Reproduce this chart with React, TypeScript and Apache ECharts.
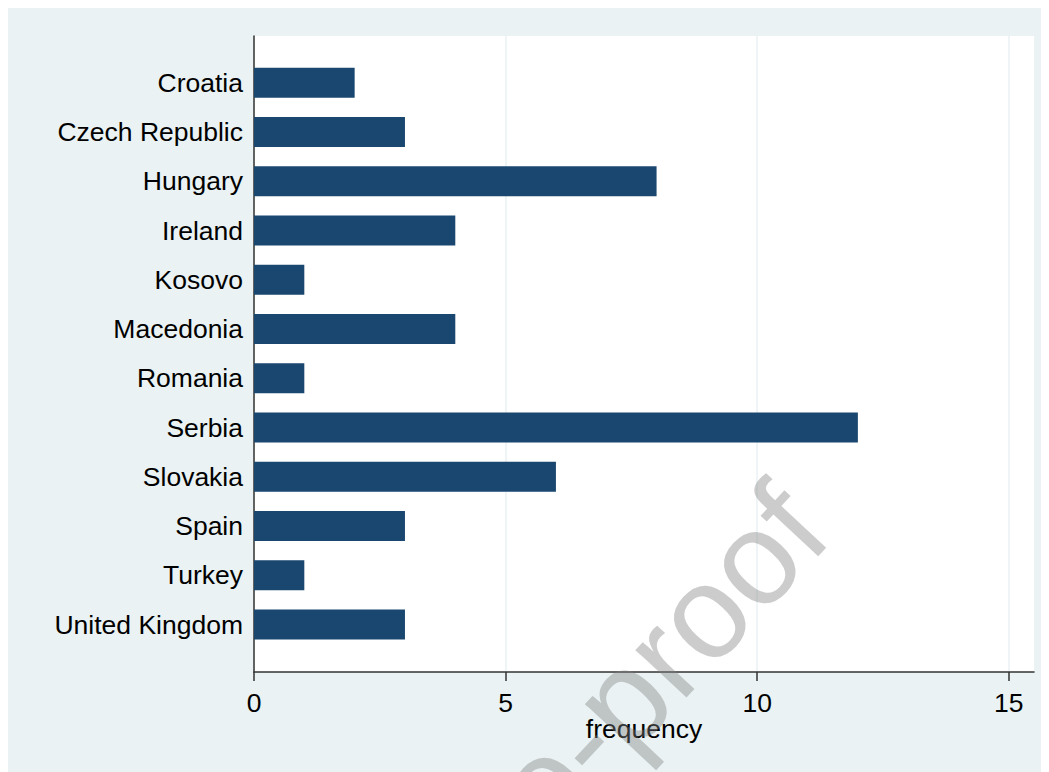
import React, { useEffect, useRef } from "react";
import * as echarts from "echarts";

const countries = [
  "Croatia",
  "Czech Republic",
  "Hungary",
  "Ireland",
  "Kosovo",
  "Macedonia",
  "Romania",
  "Serbia",
  "Slovakia",
  "Spain",
  "Turkey",
  "United Kingdom",
];
const frequency = [2, 3, 8, 4, 1, 4, 1, 12, 6, 3, 1, 3];
const xRange = { min: 0, max: 15.5, interval: 5 };
const xTickValues = [0, 5, 10, 15];
const xName = "frequency";
const watermark = "Journal Pre-proof";

const FONT = "'Liberation Sans', Arial, Helvetica, sans-serif";

export default function App() {
  const ref = useRef<HTMLDivElement>(null);
  useEffect(() => {
    if (!ref.current) return;
    const chart = echarts.init(ref.current, undefined, { renderer: "svg" });
    const option: any = {
      animation: false,
      backgroundColor: "#eaf2f3",
      textStyle: { fontFamily: FONT },
      grid: [
        {
          left: 246,
          right: 15,
          top: 28,
          bottom: 100,
          show: true,
          backgroundColor: "#ffffff",
          borderWidth: 0,
          containLabel: false,
          outerBoundsMode: "none",
        },
        {
          left: 246,
          right: 15,
          top: 50.2,
          bottom: 122.8,
          containLabel: false,
          outerBoundsMode: "none",
        },
      ],
      xAxis: [
        {
          type: "value",
          gridIndex: 0,
          min: xRange.min,
          max: xRange.max,
          interval: xRange.interval,
          name: xName,
          nameLocation: "middle",
          nameGap: 43,
          nameMoveOverlap: false,
          nameTextStyle: { fontSize: 26.5, color: "#000", fontFamily: FONT },
          axisLine: { show: true, onZero: false, lineStyle: { color: "#333", width: 1.5 } },
          axisTick: {
            show: true,
            length: 9,
            customValues: xTickValues,
            lineStyle: { color: "#333", width: 1.5 },
          },
          axisLabel: {
            fontSize: 26.5,
            color: "#000",
            margin: 17,
            fontFamily: FONT,
            customValues: xTickValues,
          },
          splitLine: { show: true, lineStyle: { color: "#eaf2f3", width: 1.5 } },
        },
        {
          type: "value",
          gridIndex: 1,
          min: xRange.min,
          max: xRange.max,
          show: false,
        },
      ],
      yAxis: [
        {
          type: "value",
          gridIndex: 0,
          min: 0,
          max: 1,
          position: "left",
          axisLine: { show: true, onZero: false, lineStyle: { color: "#333", width: 1.5 } },
          axisTick: { show: false },
          axisLabel: { show: false },
          splitLine: { show: false },
        },
        {
          type: "category",
          gridIndex: 1,
          inverse: true,
          data: countries,
          axisLine: { show: false },
          axisTick: { show: false },
          axisLabel: { fontSize: 26.5, color: "#000", margin: 11, fontFamily: FONT },
          splitLine: { show: false },
        },
      ],
      series: [
        {
          type: "bar",
          xAxisIndex: 1,
          yAxisIndex: 1,
          data: frequency,
          barWidth: 30,
          itemStyle: { color: "#1a476f" },
          z: 3,
        },
      ],
      graphic: [
        {
          type: "text",
          x: 794,
          y: 499,
          rotation: (47 * Math.PI) / 180,
          z: 100,
          silent: true,
          style: {
            text: watermark,
            fontSize: 132,
            fontFamily: FONT,
            fill: "rgba(128,128,128,0.4)",
            textAlign: "right",
            textVerticalAlign: "middle",
          },
        },
      ],
    };
    chart.setOption(option);
    return () => chart.dispose();
  }, []);
  return <div ref={ref} style={{ width: 1041, height: 764 }} />;
}
